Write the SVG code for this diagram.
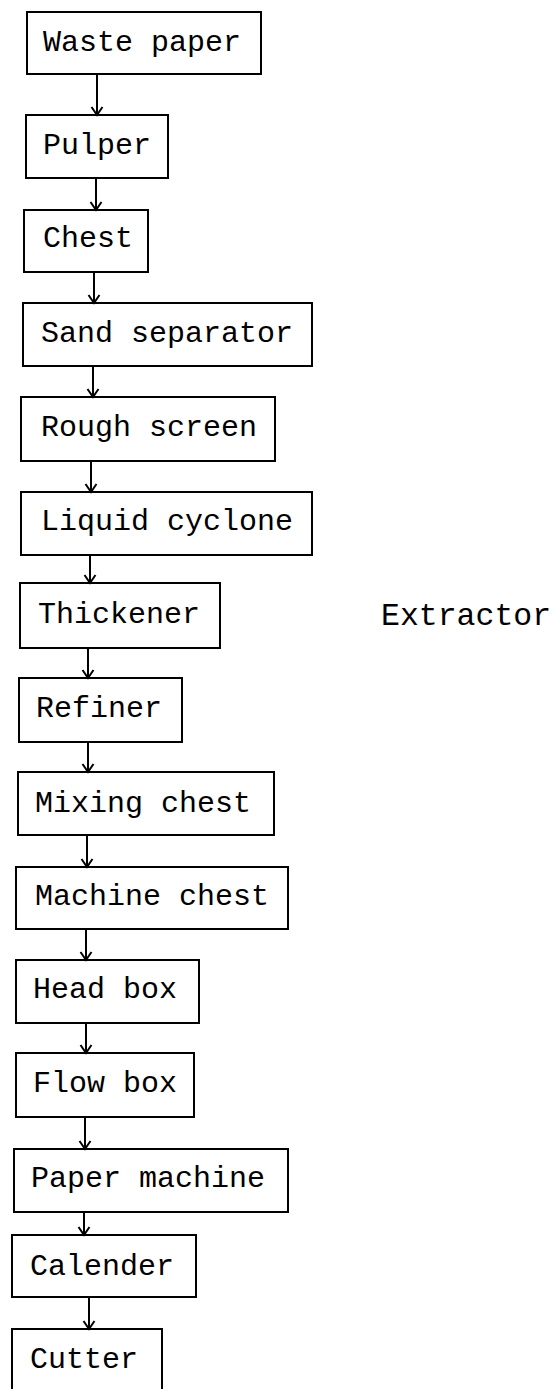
<svg xmlns="http://www.w3.org/2000/svg" width="557" height="1389" viewBox="0 0 557 1389">
  <style>
    .box { fill: #fff; stroke: #000; stroke-width: 2; }
    .lbl { font-family: "Liberation Mono", "DejaVu Sans Mono", monospace; font-size: 30px; fill: #000; }
    .flow { stroke: #000; stroke-width: 2; fill: none; marker-end: url(#head); }
  </style>
  <defs>
    <!-- open V arrowhead; drawn along +x so orient="auto" turns it to point down -->
    <marker id="head" markerUnits="userSpaceOnUse" markerWidth="14" markerHeight="14" refX="12" refY="7" orient="auto" viewBox="0 0 14 14">
      <path d="M4,1.5 L12,7 L4,12.5" fill="none" stroke="#000" stroke-width="2"/>
    </marker>
  </defs>
  <rect width="557" height="1389" fill="#fff"/>

  <g id="waste-paper"><rect class="box" x="27" y="12" width="234" height="62"/><text class="lbl" x="43" y="51">Waste paper</text></g>
  <g id="pulper"><rect class="box" x="26" y="115" width="142" height="63"/><text class="lbl" x="43" y="154">Pulper</text></g>
  <g id="chest"><rect class="box" x="24" y="210" width="124" height="62"/><text class="lbl" x="43" y="247">Chest</text></g>
  <g id="sand-separator"><rect class="box" x="23" y="303" width="289" height="63"/><text class="lbl" x="41" y="342">Sand separator</text></g>
  <g id="rough-screen"><rect class="box" x="21" y="397" width="254" height="64"/><text class="lbl" x="41" y="436">Rough screen</text></g>
  <g id="liquid-cyclone"><rect class="box" x="21" y="492" width="291" height="63"/><text class="lbl" x="41" y="530">Liquid cyclone</text></g>
  <g id="thickener"><rect class="box" x="20" y="583" width="200" height="65"/><text class="lbl" x="38" y="623">Thickener</text></g>
  <g id="extractor"><text class="lbl" x="381" y="625" style="font-size:31.5px">Extractor</text></g>
  <g id="refiner"><rect class="box" x="19" y="678" width="163" height="64"/><text class="lbl" x="36" y="717">Refiner</text></g>
  <g id="mixing-chest"><rect class="box" x="18" y="772" width="256" height="63"/><text class="lbl" x="35" y="812">Mixing chest</text></g>
  <g id="machine-chest"><rect class="box" x="16" y="867" width="272" height="62"/><text class="lbl" x="35" y="905">Machine chest</text></g>
  <g id="head-box"><rect class="box" x="16" y="960" width="183" height="63"/><text class="lbl" x="33" y="998">Head box</text></g>
  <g id="flow-box"><rect class="box" x="16" y="1053" width="178" height="64"/><text class="lbl" x="33" y="1092">Flow box</text></g>
  <g id="paper-machine"><rect class="box" x="14" y="1149" width="274" height="63"/><text class="lbl" x="31" y="1187">Paper machine</text></g>
  <g id="calender"><rect class="box" x="12" y="1235" width="184" height="62"/><text class="lbl" x="30" y="1275">Calender</text></g>
  <g id="cutter"><rect class="box" x="12" y="1329" width="150" height="70"/><text class="lbl" x="30" y="1368">Cutter</text></g>

  <!-- connectors: vertical process flow, drawn over the box edges -->
  <g id="connectors">
    <line class="flow" x1="97" y1="74" x2="97" y2="115"/>
    <line class="flow" x1="96" y1="178" x2="96" y2="210"/>
    <line class="flow" x1="94" y1="272" x2="94" y2="303"/>
    <line class="flow" x1="93" y1="366" x2="93" y2="397"/>
    <line class="flow" x1="91" y1="461" x2="91" y2="492"/>
    <line class="flow" x1="90" y1="555" x2="90" y2="583"/>
    <line class="flow" x1="88" y1="648" x2="88" y2="678"/>
    <line class="flow" x1="88" y1="742" x2="88" y2="772"/>
    <line class="flow" x1="87" y1="835" x2="87" y2="867"/>
    <line class="flow" x1="86" y1="929" x2="86" y2="960"/>
    <line class="flow" x1="86" y1="1023" x2="86" y2="1053"/>
    <line class="flow" x1="85" y1="1117" x2="85" y2="1149"/>
    <line class="flow" x1="84" y1="1212" x2="84" y2="1235"/>
    <line class="flow" x1="89" y1="1297" x2="89" y2="1329"/>
  </g>
</svg>
